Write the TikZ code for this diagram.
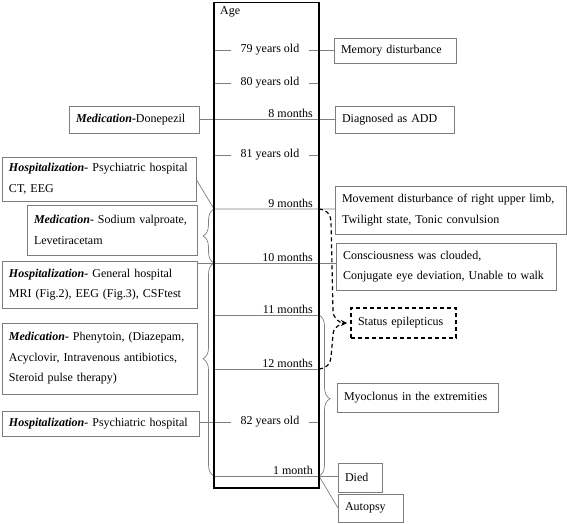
\documentclass[tikz,border=0pt]{standalone}
\usepackage{fontspec}
\setmainfont{Liberation Serif}
\usepackage{tikz}
\usetikzlibrary{arrows.meta,positioning,calc,decorations.pathreplacing}
\definecolor{linegray}{RGB}{128,128,128}
\definecolor{boxgray}{RGB}{125,125,125}
\newcommand{\bitem}[1]{\textbf{\textit{#1}}}
\tikzset{
  % 全局字体
  every node/.append style={font=\fontsize{12}{20.5}\selectfont},
  % 事件框
  evbox/.style={draw=boxgray, line width=0.7pt, anchor=north west, align=left,
    inner xsep=7pt, inner ysep=0pt, outer sep=0pt},
  % 虚线框
  stbox/.style={draw=black, line width=1.3pt, dash pattern=on 4pt off 3pt},
  % 年龄栏
  agecol/.style={minimum width=105pt, minimum height=485.5pt, inner sep=0pt, outer sep=0pt},
  agefrm/.style={draw=black, line width=1.8pt},
  % 年龄文字
  yr/.style={inner xsep=10pt, inner ysep=0pt, outer sep=0pt},
  % 月份文字
  mlab/.style={anchor=south east, inner xsep=6pt, inner ysep=1.5pt},
  % 连线
  conn/.style={draw=linegray, line width=0.7pt},
  brc/.style={conn, decorate, decoration={brace, amplitude=11pt, aspect=#1}},
  brc/.default=0.5,
  dbrace/.style={draw=black, line width=1.2pt, dash pattern=on 4pt off 3pt},
}
\begin{document}
\begin{tikzpicture}[x=1pt, y=-1pt]
  \useasboundingbox (0,0) rectangle (567,524);

  % Age column
  \node[agecol] (agebox) at (266.5,245.25) {};
  \node[anchor=west, inner sep=0pt] (age) at (220,12) {Age};

  % Ages
  \node[yr] (y79) at (270,50) {79 years old};
  \node[yr] (y80) at (270,83) {80 years old};
  \node[yr] (y81) at (270,155) {81 years old};
  \node[yr] (y82) at (270,422) {82 years old};

  % Months
  \foreach \m/\y/\t in {8/119/8 months, 9/209/9 months, 10/263/10 months,
                        11/315/11 months, 12/369/12 months, 1/476/1 month} {
    \coordinate (mL\m) at (214,\y);
    \coordinate (mR\m) at (319,\y);
    \node[mlab] (lab\m) at (mR\m) {\t};
  }

  % Left boxes
  \node[evbox, text width=116pt, minimum height=27pt] (donep) at (69,106) {\bitem{Medication-}Donepezil};
  \node[evbox, text width=180pt, minimum height=44pt] (hosp1) at (2,157)
    {\bitem{Hospitalization-} Psychiatric hospital\\CT, EEG};
  \node[evbox, text width=156pt, minimum height=50pt] (valp) at (27,205)
    {\bitem{Medication-} Sodium valproate,\\Levetiracetam};
  \node[evbox, text width=181pt, minimum height=47pt] (hosp2) at (2,261)
    {\bitem{Hospitalization-} General hospital\\MRI (Fig.2), EEG (Fig.3), CSFtest};
  \node[evbox, text width=181pt, minimum height=71pt] (pheny) at (2,323)
    {\bitem{Medication-} Phenytoin, (Diazepam,\\Acyclovir, Intravenous antibiotics,\\Steroid pulse therapy)};
  \node[evbox, text width=183pt, minimum height=25pt] (hosp3) at (2,411)
    {\bitem{Hospitalization-} Psychiatric hospital};

  % Right boxes
  \node[evbox, text width=108pt, minimum height=25pt] (mem) at (334,38) {Memory disturbance};
  \node[evbox, text width=105pt, minimum height=27pt] (dx) at (335,106) {Diagnosed as ADD};
  \node[evbox, text width=217pt, minimum height=48pt] (move) at (335,186)
    {Movement disturbance of right upper limb,\\Twilight state, Tonic convulsion};
  \node[evbox, text width=206pt, minimum height=47pt] (consc) at (336,243)
    {Consciousness was clouded,\\Conjugate eye deviation, Unable to walk};
  \node[evbox, stbox, text width=91pt, minimum height=30pt] (status) at (351,308) {Status epilepticus};
  \node[evbox, text width=147pt, minimum height=29pt] (myo) at (337,383) {Myoclonus in the extremities};
  \node[evbox, text width=30pt, minimum height=29pt] (died) at (338,463) {Died};
  \node[evbox, text width=51pt, minimum height=28pt] (autopsy) at (338,494) {Autopsy};

  % Ticks
  \draw[conn] (agebox.west |- y79) -- (y79.west);
  \draw[conn] (y79.east) -- (mem.west |- y79);
  \draw[conn] (agebox.west |- y80) -- (y80.west);
  \draw[conn] (y80.east) -- (agebox.east |- y80);
  \draw[conn] (agebox.west |- y81) -- (y81.west);
  \draw[conn] (y81.east) -- (agebox.east |- y81);
  \draw[conn] (hosp3.east |- y82) -- (y82.west);
  \draw[conn] (y82.east) -- (agebox.east |- y82);

  % Month lines
  \draw[conn] (donep.east |- mL8) -- (dx.west |- mL8);
  \draw[conn] (hosp1.east) -- (mL9) -- (move.west |- mL9);
  \draw[conn] (hosp2.east |- mL10) -- (consc.west |- mL10);
  \draw[conn] (mL11) -- (mR11);
  \draw[conn] (mL12) -- (mR12);
  \draw[conn] (mL1) -- (died.west |- mL1);
  \draw[conn] (mR1) -- (autopsy.west);

  % Braces
  \draw[brc] (mL10) -- (mL9);
  \draw[brc=0.55] (mL1) -- (mL10);
  \draw[brc=0.52] (mR11) -- (mR1);

  % Status epilepticus
  \coordinate (sttip) at (347,323);
  \draw[dbrace, -{Stealth[length=6pt, width=6pt]}] (mR9) to[out=0, in=90] ++(12,12)
    -- ($(sttip)+(-14,-12)$) to[out=-90, in=180] (sttip);
  \draw[dbrace] (mR12) to[out=0, in=-90] ++(12,-12)
    -- ($(sttip)+(-14,12)$) to[out=90, in=180] (sttip);

  % Frame
  \draw[agefrm] (agebox.south west) rectangle (agebox.north east);
\end{tikzpicture}
\end{document}
